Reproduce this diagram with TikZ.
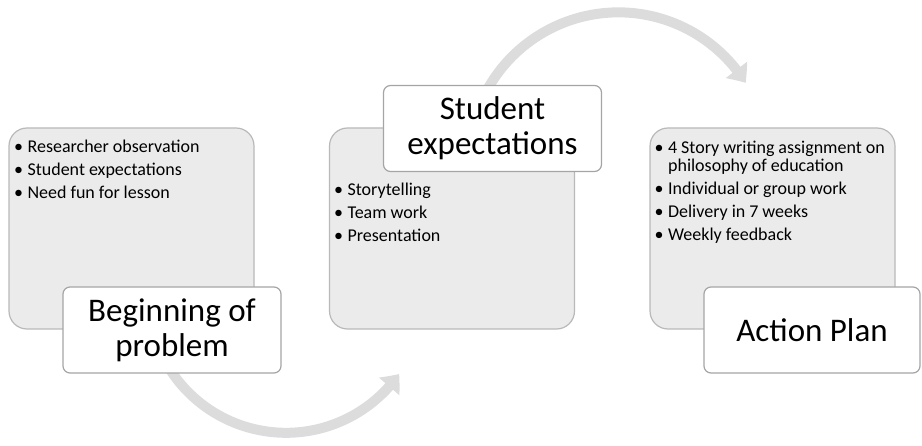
\documentclass[tikz,border=0pt]{standalone}
\usepackage{fontspec}
\setmainfont{Carlito}
\usetikzlibrary{positioning,arrows.meta,bending}

\definecolor{panelfill}{RGB}{235,235,235}
\definecolor{paneldraw}{RGB}{185,185,185}
\definecolor{titledraw}{RGB}{165,165,165}
\definecolor{loopgray}{RGB}{220,220,220}

\pgfdeclarelayer{background}
\pgfsetlayers{background,main}

\newcommand{\bulletitem}[1]{\par\hangindent=11.5pt\hangafter=1\noindent\rule{0pt}{13pt}\makebox[11.5pt][l]{\hspace{-2pt}\textbullet}#1}

\tikzstyle{panel}=[draw=paneldraw, fill=panelfill, line width=1.2pt, rounded corners=18pt, minimum width=245pt, minimum height=201pt]
\tikzstyle{titlebox}=[draw=titledraw, fill=white, line width=1.2pt, rounded corners=7pt, minimum width=218pt, minimum height=86pt, align=center, font=\fontsize{33}{35}\selectfont]
\tikzstyle{itemlist}=[anchor=north west, inner sep=0pt, text width=240pt, font=\fontsize{18}{18}\selectfont]
\tikzstyle{cyclearrow}=[draw=loopgray, line width=10pt, ->]

\begin{document}
\begin{tikzpicture}[x=1pt, y=1pt, node distance=320.5pt, >={Triangle[width=26pt,length=16pt,bend]}]
          \useasboundingbox (0,0) rectangle (922,445);

          \node (panel1) [panel] at (131.5,216.5) {};
          \node (panel2) [panel, right of=panel1] {};
          \node (panel3) [panel, right of=panel2] {};

          \node (items1) [itemlist] at ([shift={(7.5,-2)}]panel1.north west) {\setlength{\parskip}{5pt}\spaceskip=0.22em%
            \bulletitem{Researcher observation}
            \bulletitem{Student expectations}
            \bulletitem{Need fun for lesson}};
          \node (items2) [itemlist] at ([shift={(7,-45)}]panel2.north west) {\setlength{\parskip}{5pt}\spaceskip=0.22em%
            \bulletitem{Storytelling}
            \bulletitem{Team work}
            \bulletitem{Presentation}};
          \node (items3) [itemlist] at ([shift={(7,-3)}]panel3.north west) {\setlength{\parskip}{5pt}\spaceskip=0.22em%
            \bulletitem{4 Story writing assignment on\hfil\break philosophy of education}
            \bulletitem{Individual or group work}
            \bulletitem{Delivery in 7 weeks}
            \bulletitem{Weekly feedback}};

          \node (title1) [titlebox] at ([shift={(40.5,-101.5)}]panel1.center) {Beginning of\\problem};
          \node (title2) [titlebox] at ([shift={(40.5,100)}]panel2.center) {Student\\expectations};
          \node (title3) [titlebox, minimum width=216pt] at ([shift={(39.5,-101.5)}]panel3.center) {Action Plan};

          % loop arrows behind the boxes
          \begin{pgfonlayer}{background}
            \draw [cyclearrow] ([shift={(-11,20.5)}]title1.south) arc [start angle=205, end angle=325, radius=138pt];
            \draw [cyclearrow] ([shift={(-10,29.5)}]title2.center) arc [start angle=155, end angle=32, radius=150pt];
          \end{pgfonlayer}
    \end{tikzpicture}
\end{document}
